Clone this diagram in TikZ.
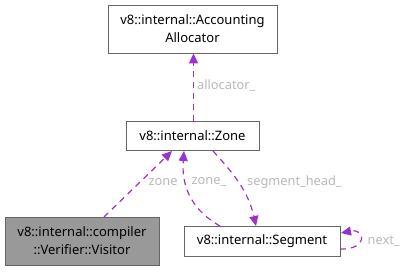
\documentclass[tikz,border=0pt]{standalone}
\usepackage{fontspec}
\setmainfont{Noto Sans}
\usetikzlibrary{arrows.meta}
\definecolor{edgecol}{HTML}{9A32CD}
\definecolor{labcol}{HTML}{B8B8B8}
\definecolor{boxline}{HTML}{666666}
\definecolor{grayfill}{HTML}{999999}
\tikzset{
  cls/.style={draw=boxline, fill=white, line width=0.8pt, inner sep=0pt, align=center, font=\fontsize{13}{18}\selectfont},
  dep/.style={draw=edgecol, line width=1.2pt, dash pattern=on 6pt off 5pt, -{Triangle[length=10pt,width=9pt]}},
  lab/.style={text=labcol, font=\fontsize{12.8}{14}\selectfont, inner sep=0pt}
}
\begin{document}
\begin{tikzpicture}[x=1pt,y=-1pt]
\useasboundingbox (0,0) rectangle (406,272);
% classes
\node[cls, minimum width=169pt, minimum height=48pt] (acc) at (192.5,29) {v8::internal::Accounting\\Allocator};
\node[cls, minimum width=133pt, minimum height=29pt] (zone) at (192.5,135.5) {v8::internal::Zone};
\node[cls, fill=grayfill, minimum width=154pt, minimum height=48pt] (vis) at (82,241) {v8::internal::compiler\\::Verifier::Visitor};
\node[cls, minimum width=156pt, minimum height=30pt] (seg) at (262,241) {v8::internal::Segment};
% anchor points on the borders
\coordinate (z1) at (193.5,121);
\coordinate (z2) at (172,151);
\coordinate (z3) at (184,151);
\coordinate (z4) at (213,151);
\coordinate (s1) at (220,226);
\coordinate (s2) at (256,226);
\coordinate (s3) at (340,249);
\coordinate (s4) at (341,233);
\coordinate (v1) at (104,217);
% dependencies
\draw[dep] (z1) -- (acc.south -| z1);
\draw[dep] (v1) -- (z2);
\draw[dep] (s1) .. controls (195,212) and (181,190) .. (z3);
\draw[dep] (z4) .. controls (232,172) and (248,190) .. (s2);
\draw[dep] (s3) .. controls (368,250) and (366,228) .. (s4);
% labels
\node[lab, anchor=west] (l1) at (197,86) {allocator\_};
\node[lab, anchor=west] (l2) at (148.5,182) {zone};
\node[lab, anchor=west] (l3) at (191.5,182) {zone\_};
\node[lab, anchor=west] (l4) at (247,182) {segment\_head\_};
\node[lab, anchor=west] (l5) at (367.5,241) {next\_};
\end{tikzpicture}
\end{document}
